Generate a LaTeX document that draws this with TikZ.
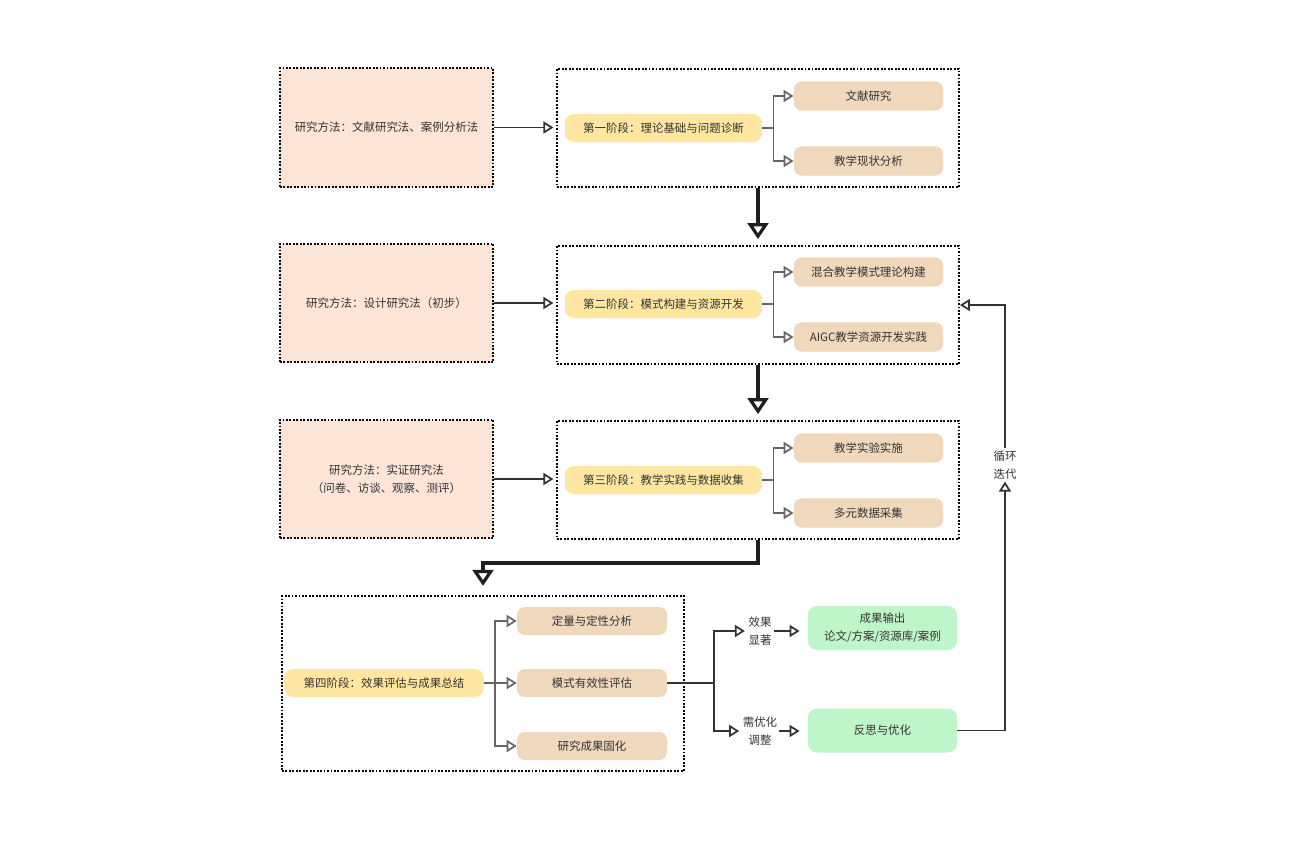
\documentclass[tikz,border=0pt]{standalone}
\usepackage{fontspec}
\setmainfont{Noto Sans CJK SC}
\usetikzlibrary{arrows.meta}
\definecolor{methodfill}{HTML}{FCE4D6}
\definecolor{phasefill}{HTML}{FFE6A1}
\definecolor{taskfill}{HTML}{EFD8BC}
\definecolor{outfill}{HTML}{BFF6C9}
\definecolor{textgray}{HTML}{333333}
\definecolor{linegray}{HTML}{666666}

\begin{document}
\begin{tikzpicture}[x=0.75pt, y=-0.75pt,
      font=\fontsize{8.6}{13.5}\selectfont,
      text=textgray,
      box/.style={draw=black, line width=1.4pt, dash pattern=on 1.4pt off 1.2pt, inner sep=0pt},
      method/.style={box, fill=methodfill, minimum width=160pt, minimum height=89pt, align=center},
      stage/.style={box, fill=white, minimum width=301.5pt, minimum height=88.5pt},
      phase/.style={fill=phasefill, rounded corners=7pt, minimum width=148pt, minimum height=21pt, inner sep=0pt},
      task/.style={fill=taskfill, rounded corners=6pt, minimum width=112pt, minimum height=22pt, inner sep=0pt},
      outcome/.style={fill=outfill, rounded corners=7pt, minimum width=112pt, minimum height=33pt, inner sep=0pt, align=center},
      note/.style={align=center, inner sep=1.5pt},
      flow/.style={draw=textgray, line width=1.3pt, -{Triangle[open, length=7.5pt, width=9pt]}},
      branch/.style={draw=linegray, line width=1.3pt, -{Triangle[open, length=7.5pt, width=9pt]}},
      advance/.style={draw=black!88, line width=2.4pt, -{Triangle[open, length=12pt, width=15.5pt]}}]

    \useasboundingbox (0,0) rectangle (1296,840);

    \node[method] (MethodOne) at (386.5,127.5) {研究方法：文献研究法、案例分析法};
    \node[stage] (StageOne) at (758,128) {};
    \node[phase] (PhaseOne) at (663.5,128) {第一阶段：理论基础与问题诊断};
    \node[task] (Literature) at (868.5,96) {文献研究};
    \node[task] (Status) at (868.5,161) {教学现状分析};

    \node[method] (MethodTwo) at (386.5,303) {研究方法：设计研究法（初步）};
    \node[stage] (StageTwo) at (758,305) {};
    \node[phase] (PhaseTwo) at (663.5,304) {第二阶段：模式构建与资源开发};
    \node[task] (Theory) at (868.5,272) {混合教学模式理论构建};
    \node[task] (Resource) at (868.5,337) {AIGC教学资源开发实践};

    \node[method] (MethodThree) at (386.5,479) {研究方法：实证研究法\\（问卷、访谈、观察、测评）};
    \node[stage] (StageThree) at (758,480) {};
    \node[phase] (PhaseThree) at (663.5,480) {第三阶段：教学实践与数据收集};
    \node[task] (Experiment) at (868.5,448) {教学实验实施};
    \node[task] (Collect) at (868.5,513) {多元数据采集};

    \node[stage, minimum height=131pt] (StageFour) at (483,683.5) {};
    \node[phase, minimum width=150pt] (PhaseFour) at (384,683) {第四阶段：效果评估与成果总结};
    \node[task, minimum width=112.5pt, minimum height=21pt] (Analysis) at (592,621) {定量与定性分析};
    \node[task, minimum width=112.5pt, minimum height=21pt] (Validity) at (592,683) {模式有效性评估};
    \node[task, minimum width=112.5pt, minimum height=21pt] (Solidify) at (592,746) {研究成果固化};

    \node[note] (Significant) at (760,631) {效果\\显著};
    \node[note] (Adjust) at (760,731) {需优化\\调整};
    \node[outcome] (Output) at (882.5,628) {成果输出\\论文/方案/资源库/案例};
    \node[outcome] (Reflect) at (882.5,730.5) {反思与优化};
    \node[note] (Loop) at (1005,465) {循环\\迭代};

    \draw[flow, shorten >=2pt] (MethodOne.east) -- (StageOne.west |- MethodOne.east);
    \draw[flow, shorten >=2pt] (MethodTwo.east) -- (StageTwo.west |- MethodTwo.east);
    \draw[flow, shorten >=2pt] (MethodThree.east) -- (StageThree.west |- MethodThree.east);

    \draw[branch] (PhaseOne.east) -- ++(11,0) |- (Literature.west);
    \draw[branch] (PhaseOne.east) -- ++(11,0) |- (Status.west);
    \draw[branch] (PhaseTwo.east) -- ++(11,0) |- (Theory.west);
    \draw[branch] (PhaseTwo.east) -- ++(11,0) |- (Resource.west);
    \draw[branch] (PhaseThree.east) -- ++(11,0) |- (Experiment.west);
    \draw[branch] (PhaseThree.east) -- ++(11,0) |- (Collect.west);
    \draw[branch] (PhaseFour.east) -- ++(11,0) |- (Analysis.west);
    \draw[branch] (PhaseFour.east) -- (Validity.west);
    \draw[branch] (PhaseFour.east) -- ++(11,0) |- (Solidify.west);

    \draw[advance, shorten >=4.5pt] (StageOne.south) -- (StageTwo.north);
    \draw[advance, shorten >=4.5pt] (StageTwo.south) -- (StageThree.north);
    \draw[advance, shorten >=7pt] (StageThree.south) -- ++(0,23) -| (StageFour.north);

    \draw[flow, shorten >=1pt] (Validity.east) -- ++(47,0) |- (Significant.west);
    \draw[flow, shorten >=1pt] (Validity.east) -- ++(47,0) |- (Adjust.west);
    \draw[flow, shorten >=6pt] (Significant.east) -- (Output.west |- Significant.east);
    \draw[flow, shorten >=6pt] (Adjust.east) -- (Reflect.west |- Adjust.east);

    \draw[flow] (Reflect.east) -| (Loop.south);
    \draw[flow] (Loop.north) |- (StageTwo.east);

\end{tikzpicture}
\end{document}
